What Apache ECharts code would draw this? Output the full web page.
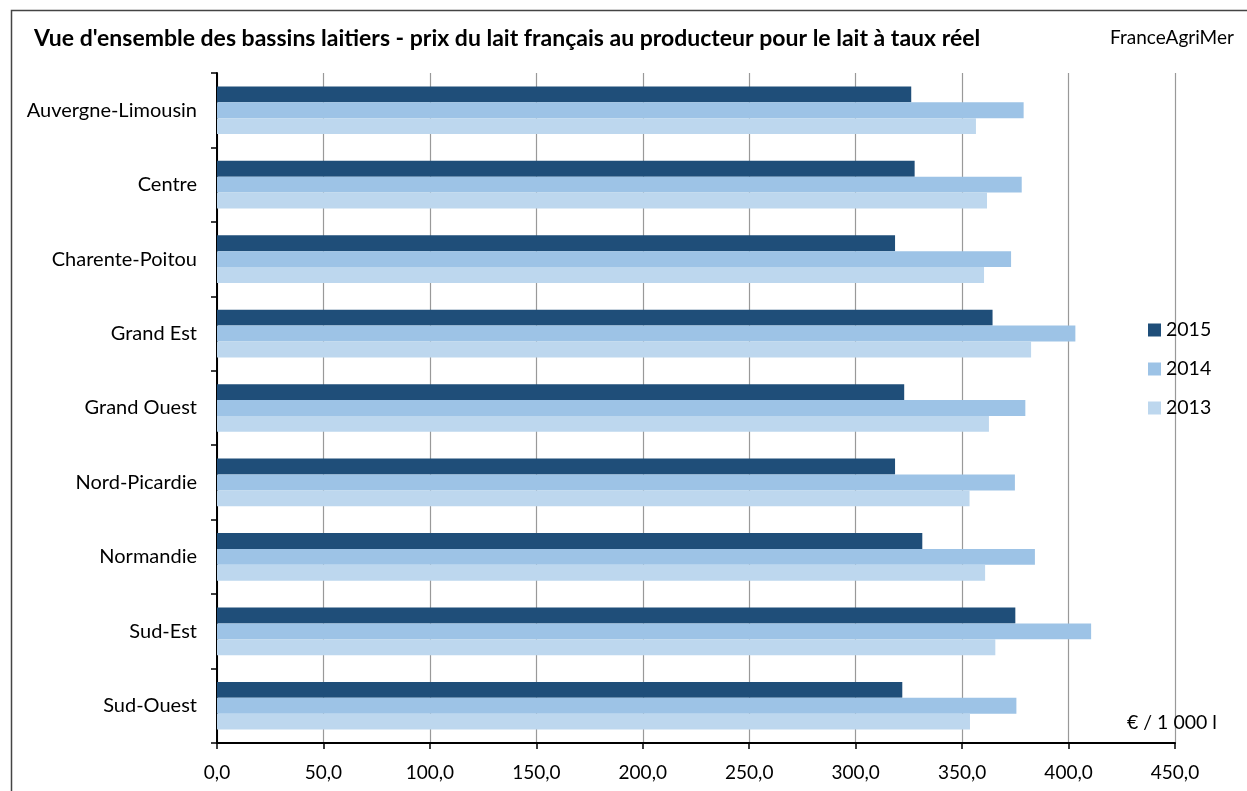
<!DOCTYPE html>
<html><head><meta charset="utf-8">
<script src="https://cdn.jsdelivr.net/npm/echarts@6/dist/echarts.min.js"></script>
<style>html,body{margin:0;padding:0;background:#fff}#c{width:1247px;height:791px}</style>
</head><body><div id="c"></div>
<script>
const categories = ['Auvergne-Limousin','Centre','Charente-Poitou','Grand Est','Grand Ouest','Nord-Picardie','Normandie','Sud-Est','Sud-Ouest'];
const seriesNames = ['2015','2014','2013'];
const v2015 = [326.1, 327.7, 318.5, 364.3, 322.8, 318.5, 331.3, 375.0, 321.9];
const v2014 = [378.9, 378.0, 373.0, 403.2, 379.7, 374.8, 384.2, 410.6, 375.5];
const v2013 = [356.5, 361.7, 360.3, 382.4, 362.6, 353.5, 360.8, 365.6, 353.7];
const xTicks = [0, 50, 100, 150, 200, 250, 300, 350, 400, 450];
const colors = ['#1F4E79', '#9DC3E6', '#BDD7EE'];
const FONT = 'Lato';

const chart = echarts.init(document.getElementById('c'));
const values = [v2015, v2014, v2013];
chart.setOption({
  animation: false,
  textStyle: { fontFamily: FONT },
  title: [
    { text: "Vue d'ensemble des bassins laitiers - prix du lait français au producteur pour le lait à taux réel",
      left: 29, top: 22, textStyle: { fontFamily: FONT, fontWeight: 'bold', fontSize: 23, color: '#000' } },
    { text: 'FranceAgriMer', left: 1105, top: 23, textStyle: { fontFamily: FONT, fontWeight: 'normal', fontSize: 19, color: '#000' } },
    { text: '€ / 1 000 l', left: 1122, top: 708, textStyle: { fontFamily: FONT, fontWeight: 'normal', fontSize: 19.5, color: '#000' } }
  ],
  graphic: [
    { type: 'rect', left: 9, top: 8, shape: { width: 1300, height: 900 }, style: { fill: 'none', stroke: '#444', lineWidth: 1.5 }, z: -1 }
  ],
  legend: {
    orient: 'vertical', left: 1143, top: 315, itemWidth: 13, itemHeight: 13, itemGap: 19,
    data: seriesNames, icon: 'rect',
    textStyle: { fontFamily: FONT, fontSize: 19.5, color: '#000', padding: [0, 0, 0, 0] }
  },
  grid: { left: 217, right: 72, top: 73, bottom: 48, containLabel: false },
  xAxis: {
    type: 'value', min: xTicks[0], max: xTicks[xTicks.length - 1], interval: 50,
    axisLine: { show: true, lineStyle: { color: '#000', width: 2 } },
    axisTick: { show: true, length: 6, lineStyle: { color: '#000', width: 1.5 } },
    axisLabel: { fontFamily: FONT, fontSize: 19, color: '#000', margin: 20,
      formatter: v => v.toFixed(1).replace('.', ',') },
    splitLine: { show: true, lineStyle: { color: '#999', width: 1.2 } }
  },
  yAxis: {
    type: 'category', data: categories, inverse: true,
    axisLine: { show: true, lineStyle: { color: '#000', width: 2 } },
    axisTick: { show: true, length: 6, lineStyle: { color: '#000', width: 1.5 } },
    axisLabel: { fontFamily: FONT, fontSize: 20, color: '#000', margin: 20 },
    splitLine: { show: false }
  },
  series: seriesNames.map((n, i) => ({
    name: n, type: 'bar', data: values[i], barGap: '0%', barCategoryGap: '36%',
    itemStyle: { color: colors[i] }
  }))
});
</script></body></html>
